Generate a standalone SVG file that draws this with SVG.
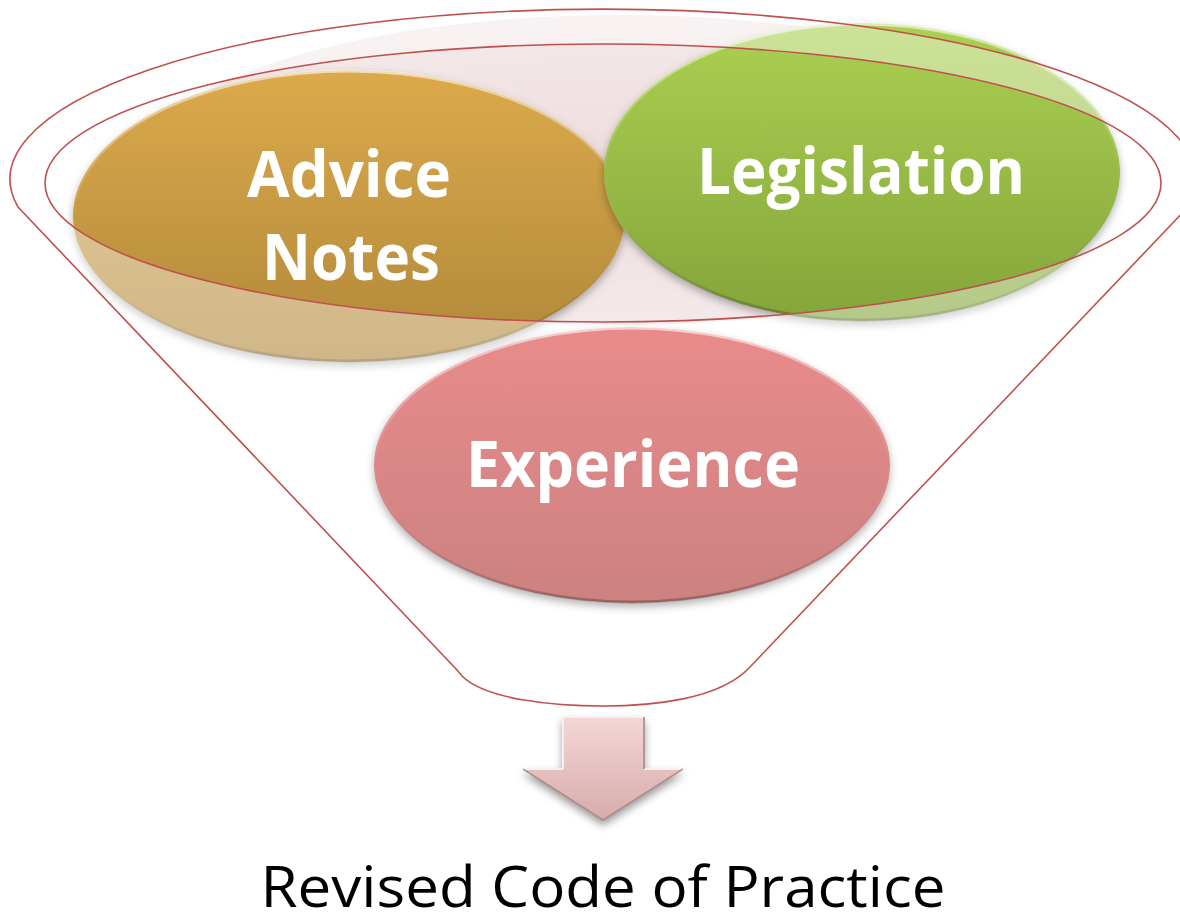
<svg xmlns="http://www.w3.org/2000/svg" width="1180" height="922" viewBox="0 0 1180 922">
<defs>
<style>
.lbl{font-family:"Open Sans","Liberation Sans",sans-serif;font-weight:bold;font-size:64px;fill:#ffffff;text-anchor:middle}
.out{font-family:"Open Sans","Liberation Sans",sans-serif;font-size:56px;fill:#000000;text-anchor:middle}
.funnel{fill:#ffffff;fill-opacity:0.4;fill-rule:evenodd;stroke:#c0504d;stroke-width:1.6}
.bevel{fill:none;stroke-width:2}
</style>
<filter id="sh" x="-10%" y="-10%" width="120%" height="130%">
<feDropShadow dx="0" dy="4" stdDeviation="4" flood-color="#000" flood-opacity="0.3"/>
</filter>
<filter id="ash" x="-20%" y="-20%" width="140%" height="150%">
<feDropShadow dx="0" dy="5" stdDeviation="4" flood-color="#000" flood-opacity="0.4"/>
</filter>
<linearGradient id="gGold" x1="0" y1="0" x2="0" y2="1">
<stop offset="0" stop-color="#dcaa4b"/><stop offset="1" stop-color="#b0873a"/>
</linearGradient>
<linearGradient id="gGreen" x1="0" y1="0" x2="0" y2="1">
<stop offset="0" stop-color="#abd052"/><stop offset="1" stop-color="#84a53a"/>
</linearGradient>
<linearGradient id="gRed" x1="0" y1="0" x2="0" y2="1">
<stop offset="0" stop-color="#e98b8b"/><stop offset="1" stop-color="#cc8181"/>
</linearGradient>
<linearGradient id="gRim" x1="0" y1="0" x2="0" y2="1">
<stop offset="0" stop-color="#ffffff" stop-opacity="0.6"/><stop offset="0.5" stop-color="#ffffff" stop-opacity="0"/><stop offset="1" stop-color="#000000" stop-opacity="0.25"/>
</linearGradient>
<linearGradient id="gArrow" x1="0" y1="0" x2="0" y2="1">
<stop offset="0" stop-color="#f4d6d6"/><stop offset="1" stop-color="#d7acac"/>
</linearGradient>
<radialGradient id="gBack" cx="0.5" cy="0.5" r="0.5">
<stop offset="0" stop-color="#e9d3d5"/><stop offset="1" stop-color="#f1e4e5"/>
</radialGradient>
</defs>

<ellipse cx="620" cy="170" rx="480" ry="155" fill="url(#gBack)" opacity="0.8"/>

<g id="advice-notes">
<ellipse cx="349" cy="216" rx="276" ry="146" fill="url(#gGold)" filter="url(#sh)"/>
<ellipse cx="349" cy="216" rx="275" ry="145" fill="none" stroke="url(#gRim)" stroke-width="3"/>
</g>
<g id="legislation">
<ellipse cx="862" cy="172" rx="258" ry="149" fill="url(#gGreen)" filter="url(#sh)"/>
<ellipse cx="862" cy="172" rx="257" ry="148" fill="none" stroke="url(#gRim)" stroke-width="3"/>
</g>

<g id="funnel">
<path class="funnel" d="M18,207 A593,170 0 1 1 1188,207 L750,667 C720,700 650,706 603,706 C556,706 486,700 462,676 L457,670 Z M45,183 A558,139 0 1 0 1161,183 A558,139 0 1 0 45,183 Z"/>
</g>

<g id="experience">
<ellipse cx="632" cy="465" rx="258" ry="138" fill="url(#gRed)" filter="url(#sh)"/>
<ellipse cx="632" cy="465" rx="257" ry="137" fill="none" stroke="url(#gRim)" stroke-width="3"/>
</g>

<g id="arrow">
<polygon points="563,717 644,717 644,769 683,769 603,820 523,769 563,769" fill="url(#gArrow)" stroke="#b98f8f" stroke-width="1" filter="url(#ash)"/>
<polyline class="bevel" points="563,769 563,717 644,717" stroke="#ffffff" stroke-opacity="0.8"/>
<polyline class="bevel" points="523,769 563,769" stroke="#ffffff" stroke-opacity="0.8"/>
<polyline class="bevel" points="644,769 683,769" stroke="#ffffff" stroke-opacity="0.8"/>
<polyline class="bevel" points="644,717 644,769" stroke="#a98080" stroke-opacity="0.6"/>
<polyline class="bevel" points="683,769 603,820 523,769" stroke="#a98080" stroke-opacity="0.6"/>
</g>

<g id="labels">
<text class="lbl" x="349" y="197" textLength="204" lengthAdjust="spacingAndGlyphs">Advice</text>
<text class="lbl" x="351" y="280" textLength="178" lengthAdjust="spacingAndGlyphs">Notes</text>
<text class="lbl" x="861" y="194" textLength="328" lengthAdjust="spacingAndGlyphs">Legislation</text>
<text class="lbl" x="633" y="487" textLength="334" lengthAdjust="spacingAndGlyphs">Experience</text>
<text class="out" x="603" y="907" textLength="685" lengthAdjust="spacingAndGlyphs">Revised Code of Practice</text>
</g>
</svg>
